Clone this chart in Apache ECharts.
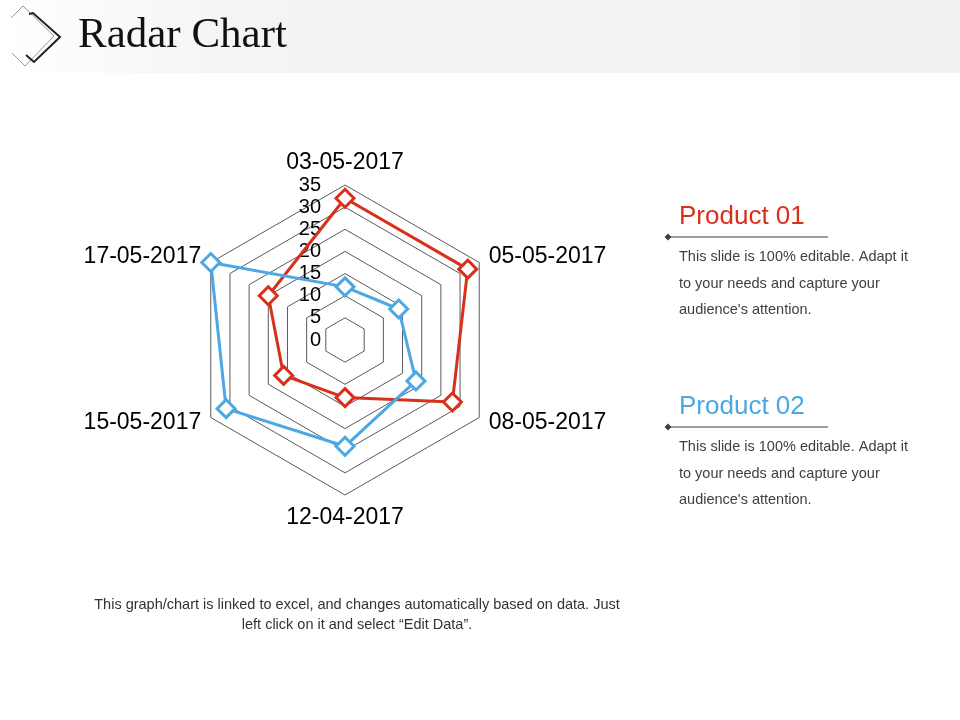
<!DOCTYPE html>
<html>
<head>
<meta charset="utf-8">
<script src="https://cdn.jsdelivr.net/npm/echarts@6/dist/echarts.min.js"></script>
<style>
html,body{margin:0;padding:0;background:#fff;}
#chart{width:960px;height:720px;}
</style>
</head>
<body>
<div id="chart"></div>
<script>
// Axis categories in the order ECharts draws them (top, then counter-clockwise)
const categories = ['03-05-2017', '17-05-2017', '15-05-2017', '12-04-2017', '08-05-2017', '05-05-2017'];
const product01 = [32, 20, 16, 13, 28, 32];
const product02 = [12, 35, 31, 24, 18.5, 14];
const tickLabels = ['0', '5', '10', '15', '20', '25', '30', '35'];
const axisMin = 0, axisMax = 35, splitCount = 7;

const RED = '#d9301c';
const BLUE = '#4aa8e4';
const FONT = '"Liberation Sans", Arial, sans-serif';
const bodyLines = ['This slide is 100% editable. Adapt it', 'to your needs and capture your', "audience's attention."];

const chart = echarts.init(document.getElementById('chart'));

function legendBlock(title, color, y) {
  const items = [
    { type: 'text', x: 679, y: y, style: { text: title, fill: color, font: '26px ' + FONT, verticalAlign: 'middle' } },
    { type: 'line', shape: { x1: 668, y1: y + 20, x2: 828, y2: y + 20 }, style: { stroke: '#404040', lineWidth: 1.2 } },
    { type: 'polygon', shape: { points: [[668, y + 16.5], [671.5, y + 20], [668, y + 23.5], [664.5, y + 20]] }, style: { fill: '#404040' } }
  ];
  bodyLines.forEach((t, i) => {
    items.push({ type: 'text', x: 679, y: y + 40 + i * 26.5, style: { text: t, fill: '#404040', font: '14.5px ' + FONT, verticalAlign: 'middle' } });
  });
  return items;
}

const option = {
  backgroundColor: '#fff',
  animation: false,
  graphic: [
    { type: 'rect', shape: { x: 0, y: 0, width: 960, height: 73 }, z: -10,
      style: { fill: new echarts.graphic.LinearGradient(0, 0, 1, 0, [{ offset: 0, color: '#ffffff' }, { offset: 0.25, color: '#f4f4f4' }, { offset: 1, color: '#f1f1f1' }]) } },
    { type: 'polyline', shape: { points: [[11, 18], [23, 6], [54, 36], [25, 66], [12, 53]] }, style: { stroke: '#9a9a9a', lineWidth: 1, fill: null } },
    { type: 'polyline', shape: { points: [[29, 14], [33, 13], [60, 37], [34, 62], [26, 55]] }, style: { stroke: '#222', lineWidth: 2, fill: null } },
    { type: 'text', x: 78, y: 36, style: { text: 'Radar Chart', fill: '#111', font: '43px "Liberation Serif", "Times New Roman", serif', verticalAlign: 'middle' } },
    ...legendBlock('Product 01', RED, 217),
    ...legendBlock('Product 02', BLUE, 407),
    { type: 'text', x: 357, y: 615, style: { text: 'This graph/chart is linked to excel, and changes automatically based on data. Just\nleft click on it and select \u201cEdit Data\u201d.', fill: '#333', font: '14.5px ' + FONT, align: 'center', verticalAlign: 'middle', lineHeight: 20 } }
  ],
  radar: {
    center: [345, 340],
    radius: 155,
    startAngle: 90,
    splitNumber: splitCount,
    shape: 'polygon',
    indicator: categories.map((c, i) => i === 0
      ? { name: c, min: axisMin, max: axisMax }
      : { name: c, min: axisMin, max: axisMax, axisLabel: { show: false } }),
    axisName: { color: '#000', fontSize: 23, fontFamily: FONT },
    nameGap: 11,
    splitLine: { lineStyle: { color: '#5a5a5a', width: 1 } },
    splitArea: { show: false },
    axisLine: { show: false },
    axisTick: { show: false },
    axisLabel: {
      show: true, color: '#000', fontSize: 20, fontFamily: FONT, margin: 24,
      formatter: function (v) { const idx = Math.round((v - axisMin) / ((axisMax - axisMin) / splitCount)); return tickLabels[idx] !== undefined ? tickLabels[idx] : ''; }
    }
  },
  series: [{
    type: 'radar',
    symbol: 'diamond',
    symbolSize: 18,
    data: [
      { name: 'Product 01', value: product01,
        lineStyle: { color: RED, width: 3 },
        itemStyle: { color: '#fff', borderColor: RED, borderWidth: 3 } },
      { name: 'Product 02', value: product02,
        lineStyle: { color: BLUE, width: 3 },
        itemStyle: { color: '#fff', borderColor: BLUE, borderWidth: 3 } }
    ]
  }]
};
chart.setOption(option);
</script>
</body>
</html>
